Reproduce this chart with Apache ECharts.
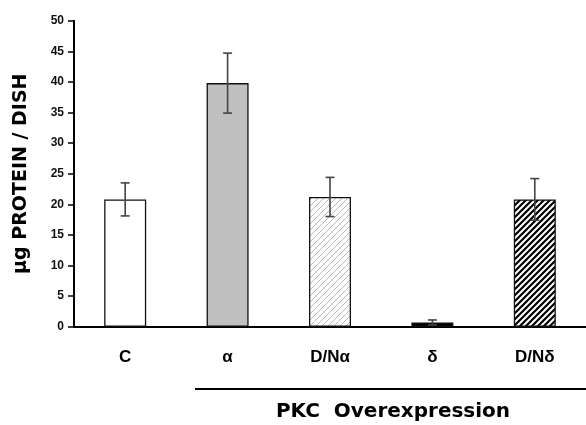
<!DOCTYPE html>
<html><head><meta charset="utf-8">
<script src="https://cdn.jsdelivr.net/npm/echarts@6/dist/echarts.min.js"></script>
<style>html,body{margin:0;padding:0;background:#fff}#c{width:586px;height:425px}</style>
</head><body><div id="c"></div>
<script>
const categories = ['C', 'α', 'D/Nα', 'δ', 'D/Nδ'];
const means = [20.8, 39.8, 21.2, 0.7, 20.8];
const errors = [2.7, 4.9, 3.2, 0.4, 3.4];
const yTicks = [0, 5, 10, 15, 20, 25, 30, 35, 40, 45, 50];

function hatch(size, lineColor, lineW) {
  const c = document.createElement('canvas');
  c.width = size; c.height = size;
  const ctx = c.getContext('2d');
  ctx.fillStyle = '#fff'; ctx.fillRect(0, 0, size, size);
  ctx.strokeStyle = lineColor; ctx.lineWidth = lineW;
  ctx.beginPath();
  ctx.moveTo(-1, size + 1); ctx.lineTo(size + 1, -1);
  ctx.moveTo(-size / 2 - 1, size / 2 + 1); ctx.lineTo(size / 2 + 1, -size / 2 - 1);
  ctx.moveTo(size / 2 - 1, size * 1.5 + 1); ctx.lineTo(size * 1.5 + 1, size / 2 - 1);
  ctx.stroke();
  return c;
}
const fills = [
  '#ffffff',
  '#c0c0c0',
  { image: hatch(6, '#b8b8b8', 1), repeat: 'repeat' },
  '#000000',
  { image: hatch(6, '#000000', 2.2), repeat: 'repeat' }
];

const chart = echarts.init(document.getElementById('c'), null, { renderer: 'canvas' });
chart.setOption({
  animation: false,
  grid: { left: 74, top: 20.7, width: 520.5, height: 306 },
  xAxis: {
    type: 'category', data: categories,
    axisLine: { lineStyle: { color: '#000', width: 2 } },
    axisTick: { show: false },
    axisLabel: { margin: 22, color: '#000', fontWeight: 'bold', fontSize: 17, fontFamily: 'Liberation Sans' }
  },
  yAxis: {
    type: 'value', min: 0, max: 50, interval: 5,
    name: 'µg PROTEIN / DISH', nameLocation: 'middle', nameGap: 43, nameRotate: 90,
    nameTextStyle: { color: '#000', fontWeight: 'bold', fontSize: 19, fontFamily: 'DejaVu Sans' },
    axisLine: { show: true, lineStyle: { color: '#000', width: 2 } },
    axisTick: { show: true, length: 6, lineStyle: { color: '#000', width: 1.5 } },
    splitLine: { show: false },
    axisLabel: { margin: 10, color: '#111', fontWeight: 'bold', fontSize: 12, fontFamily: 'Liberation Sans',
      formatter: v => yTicks.includes(v) ? String(v) : '' }
  },
  series: [
    {
      type: 'bar', barWidth: 42,
      data: means.map((v, i) => ({ value: v, itemStyle: { color: fills[i] } })),
      itemStyle: { borderColor: '#111', borderWidth: 1.3 }
    },
    {
      type: 'custom', z: 5,
      data: means.map((v, i) => [i, v - errors[i], v + errors[i]]),
      renderItem: function (params, api) {
        const lo = api.coord([api.value(0), api.value(1)]);
        const hi = api.coord([api.value(0), api.value(2)]);
        const hw = 4.5;
        const st = { stroke: '#444', lineWidth: 1.6 };
        return {
          type: 'group', children: [
            { type: 'line', shape: { x1: hi[0], y1: hi[1], x2: lo[0], y2: lo[1] }, style: st },
            { type: 'line', shape: { x1: hi[0] - hw, y1: hi[1], x2: hi[0] + hw, y2: hi[1] }, style: st },
            { type: 'line', shape: { x1: lo[0] - hw, y1: lo[1], x2: lo[0] + hw, y2: lo[1] }, style: st }
          ]
        };
      }
    }
  ],
  graphic: [
    { type: 'line', shape: { x1: 195, y1: 389, x2: 586, y2: 389 }, style: { stroke: '#000', lineWidth: 2.2 } },
    { type: 'text', x: 393, y: 412,
      style: { text: 'PKC  Overexpression', textAlign: 'center', textVerticalAlign: 'middle',
        fill: '#000', font: 'bold 20px "DejaVu Sans"' } }
  ]
});
</script></body></html>
